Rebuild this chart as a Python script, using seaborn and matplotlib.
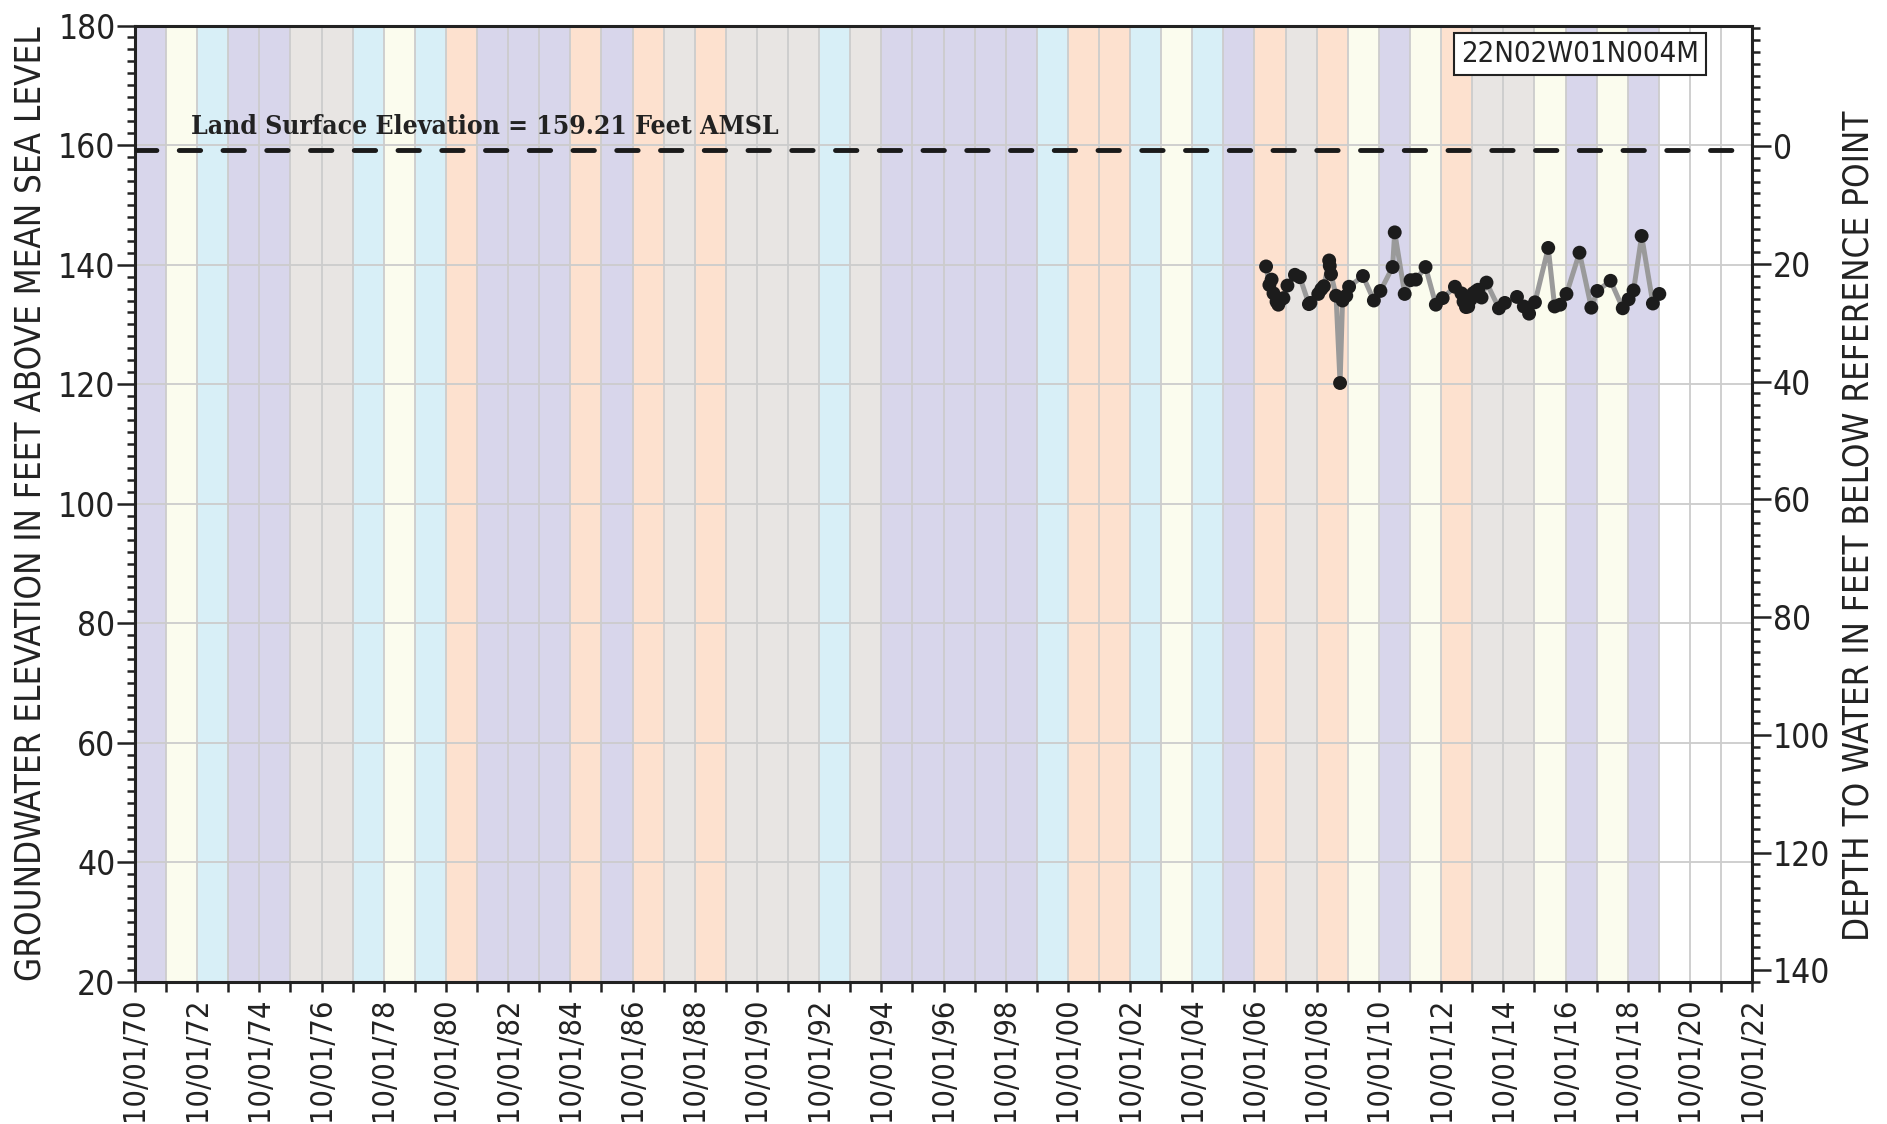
import matplotlib
matplotlib.use('Agg')
import matplotlib.pyplot as plt
import matplotlib.dates as mdates
import matplotlib.ticker as mticker
import seaborn as sns
import pandas as pd

# water year classification (Sacramento Valley index), WY1971..WY2019
water_years = list(range(1971, 2020))
wy_types = ['W', 'BN', 'AN', 'W', 'W', 'C', 'C', 'AN', 'BN', 'AN',
            'D', 'W', 'W', 'W', 'D', 'W', 'D', 'C', 'D', 'C',
            'C', 'C', 'AN', 'C', 'W', 'W', 'W', 'W', 'W', 'AN',
            'D', 'D', 'AN', 'BN', 'AN', 'W', 'D', 'C', 'D', 'BN',
            'W', 'BN', 'D', 'C', 'C', 'BN', 'W', 'BN', 'W']
type_colors = {'W': '#d8d6eb', 'AN': '#d8eff7', 'BN': '#fbfcee',
               'D': '#fde1cf', 'C': '#e8e5e3'}

# groundwater level measurements
dates = ['2007-02-14', '2007-03-25', '2007-04-20', '2007-05-12', '2007-06-17',
         '2007-07-08', '2007-08-04', '2007-09-06', '2007-10-23', '2008-01-19',
         '2008-03-17', '2008-07-01', '2008-07-19', '2008-10-19', '2008-11-24',
         '2008-12-24', '2009-02-24', '2009-03-03', '2009-03-18', '2009-05-16',
         '2009-07-02', '2009-07-31', '2009-09-13', '2009-10-16', '2010-03-28',
         '2010-08-03', '2010-10-19', '2011-03-11', '2011-04-05', '2011-07-31',
         '2011-10-08', '2011-12-09', '2012-04-01', '2012-07-31', '2012-10-19',
         '2013-03-12', '2013-05-27', '2013-06-21', '2013-07-20', '2013-08-15',
         '2013-09-13', '2013-10-12', '2013-11-10', '2013-12-09', '2014-01-19',
         '2014-03-18', '2014-08-11', '2014-10-19', '2015-03-11', '2015-05-30',
         '2015-07-31', '2015-10-08', '2016-03-12', '2016-05-26', '2016-07-30',
         '2016-10-12', '2017-03-14', '2017-07-31', '2017-10-09', '2018-03-14',
         '2018-08-04', '2018-10-12', '2018-12-09', '2019-03-14', '2019-07-24',
         '2019-10-08']
elevation = [139.7, 136.6, 137.5, 135.2, 133.8,
             133.3, 134.1, 134.4, 136.5, 138.3,
             137.9, 133.4, 133.6, 135.1, 135.9,
             136.4, 140.7, 139.8, 138.4, 134.8,
             120.2, 134.0, 134.8, 136.3, 138.1,
             134.0, 135.6, 139.6, 145.4, 135.1,
             137.4, 137.5, 139.6, 133.3, 134.4,
             136.3, 135.2, 133.8, 132.9, 133.0,
             134.2, 135.2, 135.5, 135.8, 134.5,
             137.0, 132.7, 133.6, 134.6, 133.0,
             131.8, 133.7, 142.8, 133.0, 133.3,
             135.1, 142.0, 132.8, 135.6, 137.3,
             132.7, 134.2, 135.7, 144.8, 133.5,
             135.1]

land_surface = 159.21
well_id = '22N02W01N004M'

df = pd.DataFrame({'date': pd.to_datetime(dates), 'elev': elevation})

sns.set_style('white')
plt.rcParams['font.family'] = ['DejaVu Sans']
plt.rcParams['font.stretch'] = 'condensed'

ink = '#222222'

fig = plt.figure(figsize=(18.87, 11.24), dpi=100)
ax = fig.add_axes([0.0715, 0.1263, 0.857, 0.851])

# water year background bands
for wy, t in zip(water_years, wy_types):
    start = mdates.date2num(pd.Timestamp(f'{wy - 1}-10-01'))
    end = mdates.date2num(pd.Timestamp(f'{wy}-10-01'))
    ax.axvspan(start, end, color=type_colors[t], lw=0, zorder=0)

sns.lineplot(data=df, x='date', y='elev', color='#9a9a9a', lw=3.6,
             ax=ax, zorder=3)
sns.scatterplot(data=df, x='date', y='elev', color='#1c1c1c', s=100,
                edgecolor='none', ax=ax, zorder=4)

ax.axhline(land_surface, color='#1a1a1a', lw=3.5, dashes=(4.4, 4.6),
           dash_capstyle='round', zorder=5)
ax.text(0.0346, 161.0, f'Land Surface Elevation = {land_surface} Feet AMSL',
        transform=ax.get_yaxis_transform(), family='DejaVu Serif',
        fontstretch='condensed', fontweight='bold', fontsize=19,
        color=ink, va='bottom', ha='left', zorder=6)

ax.text(0.967, 0.985, well_id, transform=ax.transAxes, fontsize=21,
        ha='right', va='top', color=ink, zorder=6,
        bbox=dict(boxstyle='square,pad=0.25', fc='white', ec=ink, lw=1.5))

# axes limits and ticks
ax.set_xlim(mdates.date2num(pd.Timestamp('1970-10-01')),
            mdates.date2num(pd.Timestamp('2022-10-01')))
ax.set_ylim(20, 180)
ax.xaxis.set_major_locator(mdates.YearLocator(base=2, month=10, day=1))
ax.xaxis.set_minor_locator(mdates.YearLocator(base=1, month=10, day=1))
ax.xaxis.set_major_formatter(mdates.DateFormatter('%m/%d/%y'))
ax.yaxis.set_major_locator(mticker.MultipleLocator(20))
ax.yaxis.set_minor_locator(mticker.MultipleLocator(2))

ax.grid(True, which='major', axis='y', color='#cccccc', lw=1.3)
ax.grid(True, which='both', axis='x', color='#cccccc', lw=1.3)
for line in ax.get_xgridlines() + ax.get_ygridlines():
    line.set_zorder(1)

ax.tick_params(axis='x', which='both', direction='out', length=7, width=1.8,
               color=ink, labelsize=22, labelrotation=90, pad=4,
               labelcolor=ink)
ax.tick_params(axis='y', which='major', direction='out', length=13, width=1.8,
               color=ink, labelsize=24, pad=1, labelcolor=ink)
ax.tick_params(axis='y', which='minor', direction='out', length=6, width=1.8,
               color=ink)
ax.tick_params(bottom=True, left=True, which='both')

for s in ax.spines.values():
    s.set_linewidth(2.2)
    s.set_color(ink)

ax.set_xlabel('')
ax.set_ylabel('GROUNDWATER ELEVATION IN FEET ABOVE MEAN SEA LEVEL',
              fontsize=25, color=ink)
ax.yaxis.set_label_coords(-0.054, 0.5)

# depth to water axis
ax2 = ax.twinx()
ax2.set_ylim(142.0, -20.5)
ax2.yaxis.set_major_locator(mticker.FixedLocator(list(range(0, 141, 20))))
ax2.yaxis.set_minor_locator(mticker.MultipleLocator(2))
ax2.tick_params(axis='y', which='major', direction='out', length=14,
                width=1.8, color=ink, labelsize=24, pad=1,
                labelcolor=ink, right=True)
ax2.tick_params(axis='y', which='minor', direction='out', length=6,
                width=1.8, color=ink, right=True)
ax2.grid(False)
for s in ax2.spines.values():
    s.set_visible(False)
ax2.set_ylabel('DEPTH TO WATER IN FEET BELOW REFERENCE POINT', fontsize=25,
               color=ink, rotation=90)
ax2.yaxis.set_label_coords(1.055, 0.477)

fig.savefig('out.png', dpi=100)
